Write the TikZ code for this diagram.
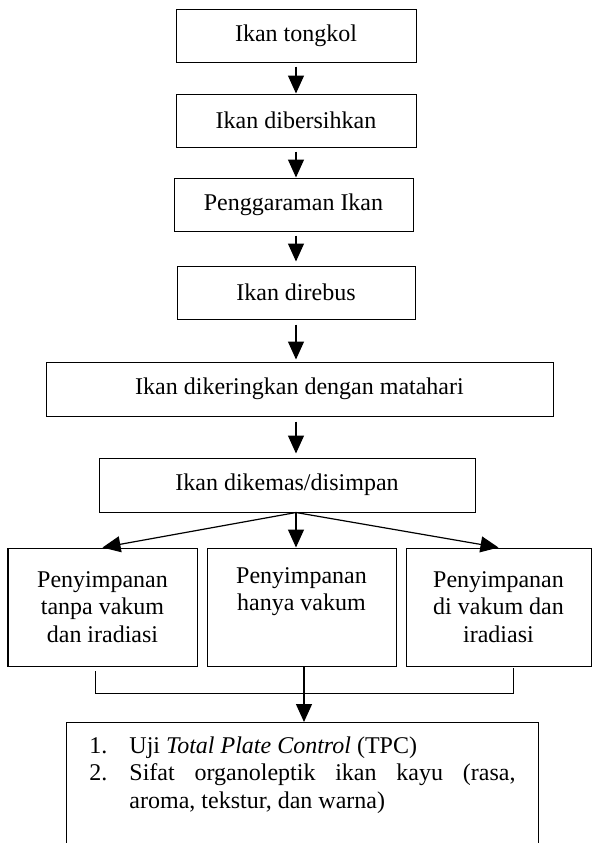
\documentclass[tikz,border=0pt]{standalone}
\usepackage{fontspec}
\setmainfont{Liberation Serif}
\usetikzlibrary{arrows.meta}

\begin{document}
\begin{tikzpicture}[
        x=0.5pt, y=-0.5pt, % one unit is one pixel of the page
        every node/.style={font=\fontsize{12}{13.8}\selectfont},
        box/.style={draw, line width=0.5pt, inner sep=0pt, align=center},
        flow/.style={-{Triangle[length=9pt,width=8pt]}, line width=0.6pt},
        link/.style={line width=0.5pt}
    ]

    \useasboundingbox (0,0) rectangle (592,843);

    % alur pengolahan
    \node[box, minimum width=120pt, minimum height=26.5pt] (tongkol) at (296,35.5) {Ikan tongkol};
    \node[box, minimum width=120pt, minimum height=26.5pt] (bersih) at (296,120.5) {Ikan dibersihkan};
    \node[box, minimum width=119.5pt, minimum height=26.5pt] (garam) at (293.5,204.5) {Penggaraman Ikan};
    \node[box, minimum width=119pt, minimum height=26.5pt] (rebus) at (296,292.5) {Ikan direbus};
    \node[box, minimum width=253.5pt, minimum height=27pt] (kering) at (299.5,389) {Ikan dikeringkan dengan matahari};
    \node[box, minimum width=188pt, minimum height=27pt] (kemas) at (287,485) {Ikan dikemas/disimpan};

    % perlakuan penyimpanan
    \node[box, minimum width=94.5pt, minimum height=59pt] (tanpa) at (102.5,607) {Penyimpanan\\tanpa vakum\\dan iradiasi};
    \node[box, minimum width=94.5pt, minimum height=59pt] (hanya) at (301.5,607) {Penyimpanan\\hanya vakum\\\strut};
    \node[box, minimum width=92.5pt, minimum height=59pt] (iradiasi) at (498.5,607) {Penyimpanan\\di vakum dan\\iradiasi};

    % pengujian
    \node[draw, line width=0.5pt, anchor=north west, text width=213pt, align=justify,
          inner xsep=11.5pt, inner ysep=7pt] (uji) at (66,722) {%
        \makebox[20pt][l]{1.}Uji \textit{Total Plate Control} (TPC)\par
        \hangindent=20pt \hangafter=1
        \makebox[20pt][l]{2.}Sifat organoleptik ikan kayu (rasa,\linebreak aroma, tekstur, dan warna)\par
        \rule{0pt}{16pt}};

    \draw[flow, shorten <=2pt] (tongkol.south) -- (bersih.north);
    \draw[flow, shorten <=2pt] (bersih.south) -- (bersih.south |- garam.north);
    \draw[flow, shorten <=2pt, shorten >=2pt] (tongkol.south |- garam.south) -- (tongkol.south |- rebus.north);
    \draw[flow, shorten <=2.5pt, shorten >=1pt] (rebus.south) -- (rebus.south |- kering.north);
    \draw[flow, shorten <=2.5pt, shorten >=2pt] (rebus.south |- kering.south) -- (rebus.south |- kemas.north);

    \coordinate (pisah) at (kemas.south -| tongkol.south);
    \draw[flow] (pisah) -- (tanpa.north);
    \draw[flow] (pisah) -- (pisah |- hanya.north);
    \draw[flow] (pisah) -- (iradiasi.north);

    % gabungan ke pengujian
    \coordinate (kiri) at (95,671);
    \coordinate (kanan) at (513,668);
    \draw[link] (kiri) -- (kiri |- 0,693) -- (kanan |- 0,693) -- (kanan);
    \draw[flow] ([xshift=1.25pt]hanya.south) -- ([xshift=1.25pt]hanya.south |- uji.north);

\end{tikzpicture}
\end{document}
